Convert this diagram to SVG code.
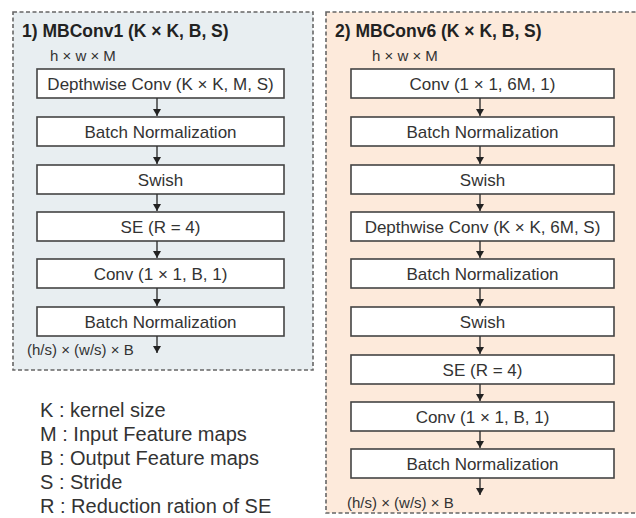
<svg xmlns="http://www.w3.org/2000/svg" width="636" height="518" viewBox="0 0 636 518">
<defs>
<marker id="ah" markerWidth="8" markerHeight="8" refX="7" refY="4" orient="auto" markerUnits="userSpaceOnUse" viewBox="0 0 8 8">
<path d="M0,0 L7,4 L0,8 Z" fill="#222"/>
</marker>
</defs>
<style>
.panel{stroke:#666;stroke-width:1.6;stroke-dasharray:4 2.5}
.box rect{fill:#fff;stroke:#444;stroke-width:1.6}
.box text{font-family:"Liberation Sans",Arial,sans-serif;font-size:17px;fill:#333;text-anchor:middle}
.title{font-family:"Liberation Sans",Arial,sans-serif;font-size:17.5px;font-weight:bold;fill:#222}
.dim{font-family:"Liberation Sans",Arial,sans-serif;font-size:15px;fill:#333}
.leg{font-family:"Liberation Sans",Arial,sans-serif;font-size:20px;fill:#333}
.conn line{stroke:#333;stroke-width:1.4;marker-end:url(#ah)}
</style>
<rect width="636" height="518" fill="#fff"/>
<rect class="panel" x="13" y="12" width="300" height="358" fill="#e8eef1"/>
<rect class="panel" x="326" y="12" width="320" height="501" fill="#fdeadb"/>
<text class="title" x="22" y="37">1) MBConv1 (K × K, B, S)</text>
<text class="title" x="335" y="37">2) MBConv6 (K × K, B, S)</text>
<text class="dim" x="50" y="61">h × w × M</text>
<text class="dim" x="372" y="61">h × w × M</text>
<text class="dim" x="27" y="355">(h/s) × (w/s) × B</text>
<text class="dim" x="347" y="508">(h/s) × (w/s) × B</text>

<g id="l1" class="box"><rect x="37" y="69" width="247" height="29"/><text x="160.5" y="89.5">Depthwise Conv (K × K, M, S)</text></g>
<g id="l2" class="box"><rect x="37" y="117" width="247" height="29"/><text x="160.5" y="137.5">Batch Normalization</text></g>
<g id="l3" class="box"><rect x="37" y="165" width="247" height="29"/><text x="160.5" y="185.5">Swish</text></g>
<g id="l4" class="box"><rect x="37" y="212" width="247" height="29"/><text x="160.5" y="232.5">SE (R = 4)</text></g>
<g id="l5" class="box"><rect x="37" y="259" width="247" height="29"/><text x="160.5" y="279.5">Conv (1 × 1, B, 1)</text></g>
<g id="l6" class="box"><rect x="37" y="307" width="247" height="29"/><text x="160.5" y="327.5">Batch Normalization</text></g>

<g id="r1" class="box"><rect x="351" y="69" width="263" height="29"/><text x="482.5" y="89.5">Conv (1 × 1, 6M, 1)</text></g>
<g id="r2" class="box"><rect x="351" y="117" width="263" height="29"/><text x="482.5" y="137.5">Batch Normalization</text></g>
<g id="r3" class="box"><rect x="351" y="165" width="263" height="29"/><text x="482.5" y="185.5">Swish</text></g>
<g id="r4" class="box"><rect x="351" y="212" width="263" height="29"/><text x="482.5" y="232.5">Depthwise Conv (K × K, 6M, S)</text></g>
<g id="r5" class="box"><rect x="351" y="259" width="263" height="29"/><text x="482.5" y="279.5">Batch Normalization</text></g>
<g id="r6" class="box"><rect x="351" y="307" width="263" height="29"/><text x="482.5" y="327.5">Swish</text></g>
<g id="r7" class="box"><rect x="351" y="355" width="263" height="29"/><text x="482.5" y="375.5">SE (R = 4)</text></g>
<g id="r8" class="box"><rect x="351" y="402" width="263" height="29"/><text x="482.5" y="422.5">Conv (1 × 1, B, 1)</text></g>
<g id="r9" class="box"><rect x="351" y="449" width="263" height="29"/><text x="482.5" y="469.5">Batch Normalization</text></g>

<g id="connectors" class="conn">
<line x1="157" y1="98" x2="157" y2="116"/>
<line x1="157" y1="146" x2="157" y2="164"/>
<line x1="157" y1="194" x2="157" y2="211"/>
<line x1="157" y1="241" x2="157" y2="258"/>
<line x1="157" y1="288" x2="157" y2="306"/>
<line x1="157" y1="336" x2="157" y2="353"/>
<line x1="480" y1="98" x2="480" y2="116"/>
<line x1="480" y1="146" x2="480" y2="164"/>
<line x1="480" y1="194" x2="480" y2="211"/>
<line x1="480" y1="241" x2="480" y2="258"/>
<line x1="480" y1="288" x2="480" y2="306"/>
<line x1="480" y1="336" x2="480" y2="354"/>
<line x1="480" y1="384" x2="480" y2="401"/>
<line x1="480" y1="431" x2="480" y2="448"/>
<line x1="480" y1="478" x2="480" y2="495"/>
</g>

<text class="leg" x="40" y="417">K : kernel size</text>
<text class="leg" x="40" y="441">M : Input Feature maps</text>
<text class="leg" x="40" y="465">B : Output Feature maps</text>
<text class="leg" x="40" y="489">S : Stride</text>
<text class="leg" x="40" y="513">R : Reduction ration of SE</text>
</svg>
